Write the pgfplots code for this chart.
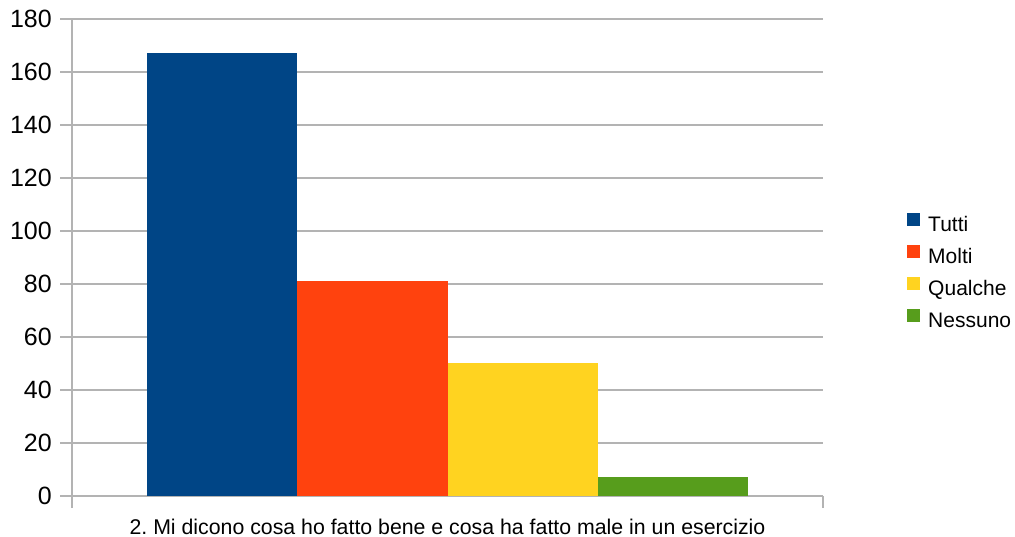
\documentclass[border=0pt]{standalone}
\usepackage{fontspec}
\setmainfont{Liberation Sans}
\usepackage{pgfplots}
\pgfplotsset{compat=1.18}
\definecolor{cTutti}{HTML}{004586}
\definecolor{cMolti}{HTML}{FF420E}
\definecolor{cQualche}{HTML}{FFD320}
\definecolor{cNessuno}{HTML}{579D1C}
\definecolor{gridgray}{HTML}{B3B3B3}
\begin{document}
\begin{tikzpicture}
\useasboundingbox (-72bp,-41bp) rectangle (943bp,496bp);
\begin{axis}[
  scale only axis, width=751bp, height=477bp,
  at={(0,0)}, anchor=south west,
  xmin=0, xmax=1, ymin=0, ymax=180,
  axis lines*=left,
  axis line style={draw=gridgray, line width=1.1bp},
  ytick={0,20,...,180},
  xtick={0,1}, xticklabels={},
  ymajorgrids,
  grid style={draw=gridgray, line width=1.1bp},
  tick style={draw=gridgray, line width=1.1bp},
  tick align=outside,
  major tick length=12bp,
  /pgf/number format/assume math mode=true,
  yticklabel style={font=\fontsize{25bp}{29bp}\selectfont, anchor=east, inner sep=0pt, xshift=-8bp},
  xlabel={2.\ Mi dicono cosa ho fatto bene e cosa ha fatto male in un esercizio},
  xlabel style={at={(axis description cs:0.5,0)}, anchor=base, yshift=-38bp, inner sep=0pt, font=\fontsize{21.3bp}{25bp}\selectfont},
  legend style={draw=none, fill=none, inner sep=0pt,
    at={(axis description cs:1.1119,0.5939)}, anchor=north west,
    row sep=9.4bp, column sep=8bp,
    nodes={inner sep=0pt, text height=15bp, text depth=4bp, font=\fontsize{21bp}{25bp}\selectfont}},
  legend cell align=left,
  legend image code/.code={\fill[#1] (0bp,0bp) rectangle (13bp,13bp);},
]
\addplot[ybar, bar width=0.2, bar shift=-0.3, fill=cTutti, draw=none] coordinates {(0.5,167)};
\addplot[ybar, bar width=0.2, bar shift=-0.1, fill=cMolti, draw=none] coordinates {(0.5,81)};
\addplot[ybar, bar width=0.2, bar shift=0.1, fill=cQualche, draw=none] coordinates {(0.5,50)};
\addplot[ybar, bar width=0.2, bar shift=0.3, fill=cNessuno, draw=none] coordinates {(0.5,7)};
\legend{Tutti,Molti,Qualche,Nessuno}
\end{axis}
\end{tikzpicture}
\end{document}
